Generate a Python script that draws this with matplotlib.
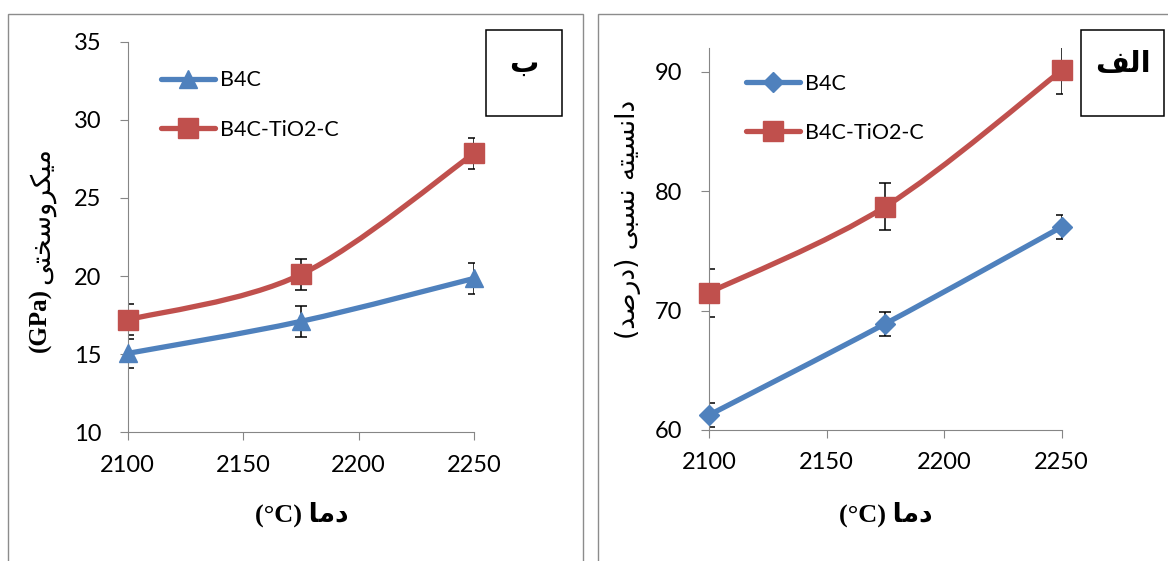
import matplotlib
matplotlib.use("Agg")
import matplotlib.pyplot as plt
from matplotlib.path import Path
from matplotlib.patches import PathPatch, Rectangle
from matplotlib.lines import Line2D

# data
temps = [2100, 2175, 2250]
temp_ticks = [2100, 2150, 2200, 2250]

hard_b4c = [15.05, 17.1, 19.85]
hard_b4c_err = [0.95, 0.97, 1.0]
hard_mix = [17.2, 20.1, 27.85]
hard_mix_err = [1.0, 1.0, 1.0]
hard_ticks = [10, 15, 20, 25, 30, 35]

dens_b4c = [61.25, 68.9, 77.0]
dens_b4c_err = [1.0, 1.0, 1.0]
dens_mix = [71.5, 78.7, 90.1]
dens_mix_err = [2.0, 2.0, 2.0]
dens_ticks = [60, 70, 80, 90]

series_names = ['B4C', 'B4C-TiO2-C']


def shaped(*codes):
    # arabic presentation forms given in logical order, returned in visual (LTR) order
    return ''.join(chr(c) for c in codes)[::-1]


# Persian words
w_micro = shaped(0xFEE3, 0xFEF4, 0xFB91, 0xFEAE, 0xFEED, 0xFEB3, 0xFEA8, 0xFE98, 0xFEF0)
w_dens = shaped(0xFEA9, 0xFE8D, 0xFEE7, 0xFEB4, 0xFEF4, 0xFE98, 0xFEEA)
w_rel = shaped(0xFEE7, 0xFEB4, 0xFE92, 0xFEF0)
w_pct = shaped(0xFEA9, 0xFEAD, 0xFEBB, 0xFEAA)
w_temp = shaped(0xFEA9, 0xFEE3, 0xFE8E)
w_be = shaped(0xFE8F)
w_alef = shaped(0xFE8D, 0xFEDF, 0xFED2)

BLUE = '#4F81BD'
RED = '#C0504D'
GRAY = '#868686'
W, H = 1168, 561

plt.rcParams['font.family'] = ['Lato', 'DejaVu Sans']


def smooth_path(x, y):
    # excel-like smoothed line (bezier, catmull-rom controls)
    verts = [(x[0], y[0])]
    codes = [Path.MOVETO]
    n = len(x)
    for i in range(n - 1):
        x0, y0 = (x[i - 1], y[i - 1]) if i > 0 else (x[i], y[i])
        x3, y3 = (x[i + 2], y[i + 2]) if i + 2 < n else (x[i + 1], y[i + 1])
        c1 = (x[i] + (x[i + 1] - x0) / 6, y[i] + (y[i + 1] - y0) / 6)
        c2 = (x[i + 1] - (x3 - x[i]) / 6, y[i + 1] - (y3 - y[i]) / 6)
        verts += [c1, c2, (x[i + 1], y[i + 1])]
        codes += [Path.CURVE4] * 3
    return Path(verts, codes)


def fx(px):
    return px / W


def fy(py):
    return 1 - py / H


def draw_panel(rect, ylim, yticks, series, legend_at):
    ax = fig.add_axes(rect)
    ax.set_xlim(2100, 2250)
    ax.set_ylim(*ylim)
    ax.set_xticks(temp_ticks)
    ax.set_yticks(yticks)
    for s in ['top', 'right']:
        ax.spines[s].set_visible(False)
    for s in ['left', 'bottom']:
        ax.spines[s].set_color(GRAY)
        ax.spines[s].set_linewidth(0.8)
    ax.tick_params(axis='both', direction='out', length=6, width=0.8, color=GRAY,
                   labelsize=17, labelcolor='black')
    ax.tick_params(axis='y', pad=13)
    ax.tick_params(axis='x', pad=10)

    handles = []
    for vals, errs, color, marker, ms in series:
        ax.add_patch(PathPatch(smooth_path(temps, vals), fill=False, edgecolor=color,
                               lw=3.8, capstyle='round', zorder=3, clip_on=False))
        ax.errorbar(temps, vals, yerr=errs, fmt='none', ecolor='black',
                    elinewidth=1.1, capsize=4, capthick=1.1, zorder=2)
        ax.plot(temps, vals, ls='none', marker=marker, ms=ms, color=color,
                mec=color, zorder=4, clip_on=False)
        handles.append(Line2D([], [], color=color, lw=3.8, marker=marker, ms=ms,
                              solid_capstyle='round'))
    ax.legend(handles, series_names, loc='center left', bbox_to_anchor=legend_at,
              frameon=False, fontsize=15.5, handlelength=2.5, handletextpad=0.25,
              labelspacing=1.35, borderpad=0, borderaxespad=0)
    return ax


fig = plt.figure(figsize=(W / 100, H / 100), dpi=100)

# outer frames of the two charts
fig.add_artist(Rectangle((fx(8.3), -0.1), fx(583 - 8.3), 1.1 - 14 / H, fill=False,
                         edgecolor='#8c8c8c', lw=1.0, transform=fig.transFigure))
fig.add_artist(Rectangle((fx(598), -0.1), 0.5, 1.1 - 14 / H, fill=False,
                         edgecolor='#8c8c8c', lw=1.0, transform=fig.transFigure))

# left: micro hardness
ax1 = draw_panel([fx(127.7), fy(432.3), fx(474 - 127.7), (432.3 - 41.7) / H],
                 (10, 35), hard_ticks,
                 [(hard_b4c, hard_b4c_err, BLUE, '^', 13.5),
                  (hard_mix, hard_mix_err, RED, 's', 14)],
                 (0.096, 0.838))

# right: relative density
ax2 = draw_panel([fx(709), fy(430), fx(1061.7 - 709), (430 - 47.7) / H],
                 (60, 92), dens_ticks,
                 [(dens_b4c, dens_b4c_err, BLUE, 'D', 10),
                  (dens_mix, dens_mix_err, RED, 's', 14)],
                 (0.105, 0.841))

# x labels
xlab = '(\u00b0C) ' + w_temp
for cx in [302, 886]:
    fig.text(fx(cx), fy(514), xlab, ha='center', va='center', fontsize=19,
             fontweight='bold', family=['Liberation Serif', 'DejaVu Sans'])

# left y label: bold serif unit + persian word
renderer = fig.canvas.get_renderer()
gpa = fig.text(fx(40), fy(352), '(GPa)', rotation=90, ha='center', va='bottom',
               fontsize=18, fontweight='bold', family='Liberation Serif')
top = gpa.get_window_extent(renderer).y1
fig.text(fx(42), (top + 4) / H, w_micro, rotation=90, ha='center', va='bottom',
         fontsize=19.5, family='DejaVu Sans')

# right y label
fig.text(fx(628), fy(219.5), '(' + w_pct + ') ' + w_rel + ' ' + w_dens, rotation=90,
         ha='center', va='center', fontsize=19, family='DejaVu Sans')

# panel tags
for (x0, x1, tag, cy) in [(485.7, 562.3, w_be, 64), (1080.7, 1164.3, w_alef, 64)]:
    fig.add_artist(Rectangle((fx(x0), fy(116.3)), fx(x1 - x0), (116.3 - 30) / H, fill=False,
                             edgecolor='black', lw=1.1, transform=fig.transFigure))
    fig.text(fx((x0 + x1) / 2), fy(cy), tag, ha='center', va='center', fontsize=21,
             fontweight='bold', family='DejaVu Sans')

fig.savefig('out.png', dpi=100)
